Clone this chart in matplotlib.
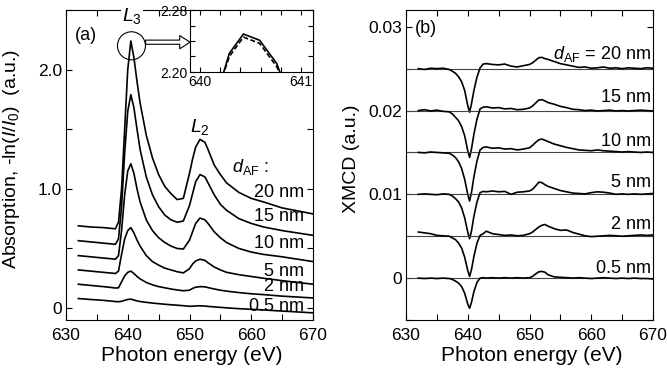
import numpy as np
import matplotlib
matplotlib.use("Agg")
import matplotlib.pyplot as plt
from matplotlib.patches import Ellipse
from matplotlib.ticker import MultipleLocator, FixedLocator

plt.rcParams['font.family'] = ['Liberation Sans', 'DejaVu Sans']
plt.rcParams['mathtext.fontset'] = 'custom'
plt.rcParams['mathtext.rm'] = 'Liberation Sans'
plt.rcParams['mathtext.it'] = 'Liberation Sans:italic'

# ---- (a) absorption spectra ----
e_abs = [632, 634, 636, 637, 638, 638.5, 639, 639.5, 640, 640.5, 641, 641.5, 642,
         643, 644, 645, 646, 647, 648, 649, 650, 650.5, 651, 651.7, 652.5, 653,
         654, 655, 656, 658, 660, 662, 665, 670]
abs_20 = [0.69, 0.68, 0.675, 0.67, 0.665, 0.72, 1.0, 1.5, 2.0, 2.24, 2.1, 1.9, 1.72,
          1.45, 1.26, 1.12, 1.02, 0.96, 0.91, 0.92, 1.13, 1.25, 1.35, 1.415, 1.39, 1.33,
          1.2, 1.12, 1.05, 0.97, 0.92, 0.89, 0.84, 0.79]
abs_15 = [0.565, 0.555, 0.545, 0.54, 0.535, 0.58, 0.85, 1.3, 1.65, 1.79, 1.68, 1.5, 1.33,
          1.1, 0.95, 0.85, 0.78, 0.74, 0.72, 0.73, 0.86, 0.96, 1.06, 1.12, 1.1, 1.05,
          0.95, 0.87, 0.82, 0.75, 0.71, 0.68, 0.65, 0.61]
abs_10 = [0.44, 0.43, 0.42, 0.415, 0.41, 0.44, 0.65, 0.95, 1.15, 1.21, 1.13, 1.0, 0.89,
          0.74, 0.65, 0.59, 0.55, 0.52, 0.5, 0.495, 0.57, 0.64, 0.71, 0.755, 0.74, 0.71,
          0.64, 0.59, 0.55, 0.5, 0.47, 0.45, 0.43, 0.39]
abs_5 = [0.32, 0.31, 0.3, 0.295, 0.29, 0.31, 0.45, 0.58, 0.65, 0.675, 0.63, 0.57, 0.52,
         0.44, 0.39, 0.36, 0.335, 0.32, 0.305, 0.295, 0.33, 0.37, 0.395, 0.41, 0.4, 0.38,
         0.345, 0.32, 0.3, 0.28, 0.265, 0.25, 0.23, 0.2]
abs_2 = [0.2, 0.19, 0.18, 0.175, 0.168, 0.17, 0.22, 0.27, 0.3, 0.31, 0.29, 0.265, 0.245,
         0.215, 0.195, 0.18, 0.17, 0.16, 0.152, 0.145, 0.15, 0.165, 0.175, 0.18, 0.178, 0.172,
         0.16, 0.15, 0.142, 0.13, 0.12, 0.113, 0.1, 0.085]
abs_05 = [0.08, 0.072, 0.065, 0.06, 0.055, 0.053, 0.057, 0.065, 0.072, 0.075, 0.068, 0.06, 0.055,
          0.048, 0.042, 0.037, 0.032, 0.028, 0.024, 0.02, 0.015, 0.016, 0.018, 0.019, 0.017, 0.014,
          0.01, 0.006, 0.002, -0.005, -0.01, -0.016, -0.025, -0.04]
abs_curves = [abs_20, abs_15, abs_10, abs_5, abs_2, abs_05]
thick_labels = ['20 nm', '15 nm', '10 nm', '5 nm', '2 nm', '0.5 nm']
abs_label_y = [0.97, 0.767, 0.544, 0.31, 0.18, 0.01]

# inset: zoom on the L3 maximum
e_inset = [640.2, 640.29, 640.43, 640.59, 640.76, 640.82]
inset_solid = [2.185, 2.224, 2.249, 2.241, 2.211, 2.19]
inset_dashed = [2.185, 2.22, 2.245, 2.237, 2.207, 2.19]

# ---- (b) XMCD spectra (relative values, 1e-3) ----
e_xmcd = [632, 633, 634, 635, 636, 637, 637.5, 638, 638.5, 639, 639.5, 640, 640.3,
          640.6, 641, 641.5, 642, 642.5, 643, 644, 645, 646, 647, 648, 649, 650, 650.5,
          651, 651.5, 652, 652.5, 653, 654, 655, 656, 657, 658, 659, 660, 661, 662, 663,
          664, 665, 666, 667, 668, 669, 670]
x_20 = [0.0, -0.1, 0.05, 0.0, 0.05, -0.1, -0.3, -0.55, -0.95, -1.55, -2.6, -4.4, -5.2,
        -4.2, -2.6, -1.0, 0.1, 0.55, 0.6, 0.5, 0.45, 0.55, 0.3, 0.2, 0.35, 0.5, 0.7,
        1.0, 1.3, 1.35, 1.2, 1.1, 0.85, 0.6, 0.45, 0.3, 0.15, 0.2, 0.05, 0.1, 0.2, 0.05,
        0.1, 0.0, 0.1, 0.05, 0.0, 0.1, 0.05]
x_15 = [0.0, 0.1, -0.05, 0.05, -0.1, -0.15, -0.4, -0.8, -1.2, -1.9, -3.0, -4.8, -5.6,
        -4.6, -2.8, -1.0, 0.2, 0.4, 0.45, 0.3, 0.35, 0.2, 0.25, 0.1, 0.15, 0.3, 0.55,
        0.9, 1.25, 1.3, 1.15, 0.95, 0.75, 0.5, 0.35, 0.15, 0.1, 0.0, 0.05, -0.05, 0.0, 0.05,
        -0.05, 0.0, -0.05, 0.0, 0.05, 0.0, -0.05]
x_10 = [0.0, -0.05, 0.05, 0.0, -0.05, -0.1, -0.3, -0.6, -1.1, -1.9, -3.2, -5.0, -5.8,
        -4.8, -2.9, -1.0, 0.3, 0.6, 0.65, 0.5, 0.55, 0.4, 0.45, 0.3, 0.4, 0.55, 0.85,
        1.2, 1.5, 1.6, 1.45, 1.3, 1.0, 0.8, 0.6, 0.45, 0.3, 0.25, 0.2, 0.3, 0.2, 0.15,
        0.1, 0.05, 0.1, 0.05, 0.0, 0.05, 0.0]
x_5 = [0.0, 0.05, 0.0, -0.05, 0.05, 0.0, -0.2, -0.5, -0.9, -1.6, -2.8, -4.5, -5.3,
       -4.4, -2.6, -0.9, 0.2, 0.35, 0.3, 0.4, 0.3, 0.35, 0.0, 0.25, 0.3, 0.4, 0.6,
       1.0, 1.45, 1.4, 1.15, 0.95, 0.7, 0.45, 0.3, 0.15, 0.1, 0.05, 0.2, 0.3, 0.25, 0.15,
       0.0, 0.05, 0.0, 0.05, 0.0, 0.05, 0.1]
x_2 = [0.5, 0.4, 0.3, 0.1, 0.05, 0.0, -0.2, -0.4, -0.8, -1.4, -2.5, -4.1, -4.8,
       -4.0, -2.4, -0.8, 0.1, 0.3, 0.6, 0.3, 0.2, 0.1, 0.15, 0.05, 0.1, 0.3, 0.5,
       0.8, 1.1, 1.3, 1.4, 1.2, 0.9, 0.7, 0.75, 0.45, 0.25, 0.05, -0.05, 0.0, 0.05, 0.1,
       0.05, 0.0, 0.05, 0.1, 0.15, 0.1, 0.15]
x_05 = [0.0, -0.05, 0.0, -0.05, 0.0, -0.05, -0.15, -0.35, -0.6, -1.0, -1.8, -3.1, -3.6,
        -2.9, -1.6, -0.5, 0.0, 0.05, 0.0, 0.05, 0.0, 0.05, 0.0, 0.05, 0.0, 0.05, 0.2,
        0.5, 0.75, 0.8, 0.7, 0.4, 0.15, 0.1, 0.05, 0.0, 0.05, 0.0, -0.05, 0.0, 0.05, 0.0,
        -0.05, 0.0, -0.05, 0.0, -0.05, -0.05, -0.1]
xmcd_curves = [x_20, x_15, x_10, x_5, x_2, x_05]
xmcd_offsets = [0.025, 0.02, 0.015, 0.01, 0.005, 0.0]
xmcd_label_y = [0.0268, 0.0215, 0.0163, 0.0114, 0.0064, 0.0012]

fig = plt.figure(figsize=(6.67, 3.72), dpi=100)
ax1 = fig.add_axes([66/667, 52/372, 247/667, 310/372])
ax2 = fig.add_axes([406/667, 52/372, 247/667, 310/372])

def style_axes(ax):
    ax.tick_params(which='both', direction='in', top=True, right=True,
                   length=4, width=0.8, labelsize=12.5)
    ax.tick_params(axis='x', pad=6)
    ax.tick_params(axis='y', pad=3)
    for s in ax.spines.values():
        s.set_linewidth(0.8)

# (a)
for y in abs_curves:
    ax1.plot(e_abs, y, color='black', lw=1.2)
ax1.set_xlim(630, 670)
ax1.set_ylim(-0.1, 2.5)
ax1.xaxis.set_major_locator(MultipleLocator(10))
ax1.xaxis.set_minor_locator(MultipleLocator(5))
ax1.yaxis.set_major_locator(FixedLocator([0, 1, 2]))
ax1.yaxis.set_minor_locator(MultipleLocator(0.5))
ax1.set_yticklabels(['0', '1.0', '2.0'])
style_axes(ax1)
ax1.set_xlabel('Photon energy (eV)', fontsize=15)
ax1.set_ylabel(r'Absorption, -ln($I$/$I_0$)  (a.u.)', fontsize=14)
ax1.yaxis.set_label_coords(-0.18, 0.52)
ax1.xaxis.set_label_coords(0.51, -0.085)

ax1.text(631.5, 2.29, '(a)', fontsize=13, va='center')
ax1.text(640.7, 2.45, r'$L_3$', fontsize=14, ha='center', va='center',
         bbox=dict(fc='white', ec='none', pad=0.5), zorder=5)
ax1.text(651.7, 1.52, r'$L_2$', fontsize=14, ha='center', va='center')
ax1.text(656.9, 1.18, r'$d_{\rm AF}$ :', fontsize=13, va='center')
for lab, ly in zip(thick_labels, abs_label_y):
    ax1.text(668.5, ly, lab, fontsize=13, ha='right', va='center')

ax1.add_patch(Ellipse((640.6, 2.2), 4.53, 0.235, fill=False, ec='black', lw=0.8, zorder=4))
ax1.annotate('', xy=(650.1, 2.23), xytext=(642.9, 2.23),
             arrowprops=dict(arrowstyle='simple,head_length=0.75,head_width=0.95,tail_width=0.3',
                             fc='white', ec='black', lw=0.8, shrinkA=0, shrinkB=0),
             annotation_clip=False)

axin = fig.add_axes([190/667, 300/372, 123/667, 62/372])
axin.plot(e_inset, inset_solid, color='black', lw=1.2)
axin.plot(e_inset, inset_dashed, color='black', lw=1.2, ls=(0, (3, 1.5)))
axin.set_xlim(639.9, 641.12)
axin.set_ylim(2.20, 2.28)
axin.xaxis.set_major_locator(FixedLocator([640, 641]))
axin.xaxis.set_minor_locator(FixedLocator([640.2, 640.4, 640.6, 640.8]))
axin.yaxis.set_major_locator(FixedLocator([2.20, 2.28]))
axin.yaxis.set_minor_locator(FixedLocator([2.22, 2.24, 2.26]))
axin.set_xticklabels(['640', '641'])
axin.set_yticklabels(['2.20', '2.28'])
axin.tick_params(which='both', direction='in', top=True, right=True,
                 length=3.5, width=0.8, labelsize=10, pad=2)
for s in axin.spines.values():
    s.set_linewidth(0.8)

# (b)
e_arr = np.array(e_xmcd)
for y, off in zip(xmcd_curves, xmcd_offsets):
    ax2.axhline(off, color='#444444', lw=0.8)
    ax2.plot(e_arr, np.array(y) * 1e-3 + off, color='black', lw=1.2)
ax2.set_xlim(630, 670)
ax2.set_ylim(-0.005, 0.032)
ax2.xaxis.set_major_locator(MultipleLocator(10))
ax2.xaxis.set_minor_locator(MultipleLocator(5))
ax2.yaxis.set_major_locator(FixedLocator([0, 0.01, 0.02, 0.03]))
ax2.yaxis.set_minor_locator(MultipleLocator(0.005))
ax2.set_yticklabels(['0', '0.01', '0.02', '0.03'])
style_axes(ax2)
ax2.set_xlabel('Photon energy (eV)', fontsize=15)
ax2.set_ylabel('XMCD (a.u.)', fontsize=14)
ax2.yaxis.set_label_coords(-0.185, 0.52)
ax2.xaxis.set_label_coords(0.51, -0.085)

ax2.text(631.5, 0.0298, '(b)', fontsize=13, va='center')
ax2.text(669.7, xmcd_label_y[0], r'$d_{\rm AF}$ = 20 nm', fontsize=13, ha='right', va='center')
for lab, ly in zip(thick_labels[1:], xmcd_label_y[1:]):
    ax2.text(669.7, ly, lab, fontsize=13, ha='right', va='center')

fig.savefig('out.png', dpi=100)
